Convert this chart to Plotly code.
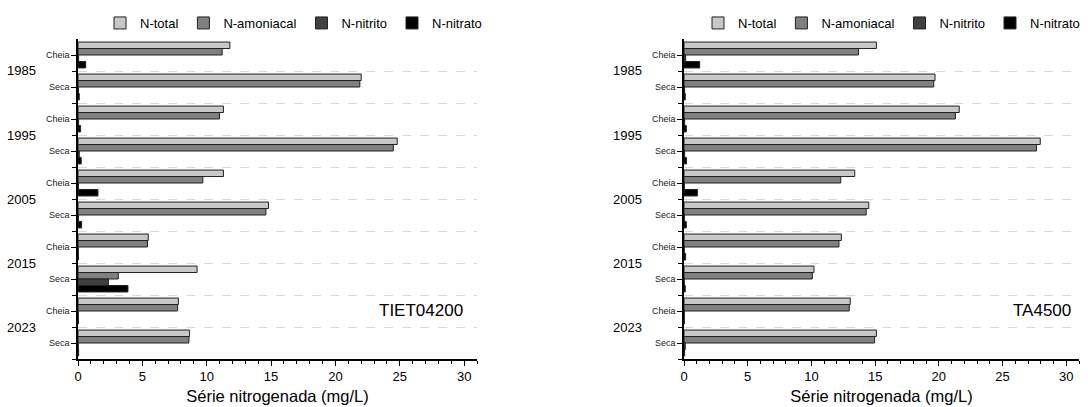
import plotly.graph_objects as go

years = ["1985", "1995", "2005", "2015", "2023"]
seasons = ["Cheia", "Seca"]
series = ["N-total", "N-amoniacal", "N-nitrito", "N-nitrato"]
colors = ["#c8c8c8", "#808080", "#404040", "#000000"]

# TIET04200 (order: Cheia 1985, Seca 1985, Cheia 1995, ...)
tiet_total = [11.8, 22.0, 11.3, 24.8, 11.3, 14.8, 5.46, 9.25, 7.8, 8.67]
tiet_amon = [11.2, 21.9, 11.0, 24.5, 9.7, 14.6, 5.4, 3.13, 7.74, 8.62]
tiet_nitrito = [0.05, 0.03, 0.05, 0.1, 0.03, 0.03, 0.02, 2.36, 0.02, 0.02]
tiet_nitrato = [0.6, 0.1, 0.2, 0.25, 1.55, 0.28, 0.03, 3.88, 0.03, 0.05]

# TA4500
ta_total = [15.1, 19.7, 21.6, 27.96, 13.4, 14.5, 12.35, 10.2, 13.05, 15.1]
ta_amon = [13.7, 19.6, 21.3, 27.67, 12.3, 14.3, 12.16, 10.07, 12.97, 14.96]
ta_nitrito = [0.13, 0.05, 0.05, 0.05, 0.03, 0.02, 0.02, 0.02, 0.02, 0.1]
ta_nitrato = [1.23, 0.1, 0.18, 0.2, 1.05, 0.18, 0.13, 0.1, 0.02, 0.05]

slot_labels = [s for y in years for s in seasons]
slot_pos = list(range(len(slot_labels)))
boundaries = [i + 0.5 for i in range(len(slot_labels))]
year_pos = [2 * i + 0.5 for i in range(len(years))]

FONT = "Liberation Sans, Arial, sans-serif"
fig = go.Figure()

panels = [
    ("x", "y", "legend", [tiet_total, tiet_amon, tiet_nitrito, tiet_nitrato]),
    ("x2", "y2", "legend2", [ta_total, ta_amon, ta_nitrito, ta_nitrato]),
]
for xa, ya, lg, vals in panels:
    for name, col, v in zip(series, colors, vals):
        fig.add_trace(go.Bar(
            x=v, y=slot_pos, orientation="h", name=name, xaxis=xa, yaxis=ya,
            legend=lg, marker=dict(color=col, line=dict(color="#222", width=1)),
            hovertemplate="%{x}<extra>" + name + "</extra>",
        ))

xdom1 = [78 / 1088, 477 / 1088]
xdom2 = [684 / 1088, 1079 / 1088]
ydom = [48 / 407, 368 / 407]

def xaxis_cfg(dom, anchor):
    return dict(
        domain=dom, anchor=anchor, range=[0, 31], tickvals=[0, 5, 10, 15, 20, 25, 30],
        ticks="outside", ticklen=5, tickwidth=1.2, tickcolor="black",
        minor=dict(dtick=1, tick0=0, ticks="outside", ticklen=3, tickcolor="black"),
        showline=True, linecolor="black", linewidth=1.5, showgrid=False, zeroline=False,
        tickfont=dict(size=13, color="black", family=FONT),
        title=dict(text="Série nitrogenada (mg/L)", font=dict(size=16.5, color="black", family=FONT), standoff=7),
        automargin=False,
    )

def yaxis_cfg(anchor):
    return dict(
        domain=ydom, anchor=anchor, range=[9.5, -0.5], tickmode="array",
        tickvals=slot_pos, ticktext=slot_labels, ticks="outside", ticklen=5,
        tickcolor="black", tickfont=dict(size=9, color="#222", family=FONT),
        minor=dict(tickmode="array", tickvals=boundaries, ticks="outside", ticklen=4,
                   tickcolor="black", showgrid=True, griddash="dash", gridcolor="#d9d9d9", gridwidth=1),
        showline=True, linecolor="black", linewidth=1.5, showgrid=False, zeroline=False,
        automargin=False,
    )

annotations = []
for xa, ya, label, lx in [("x", "y", "TIET04200", 0.97), ("x2", "y2", "TA4500", 0.985)]:
    for yr, yp in zip(years, year_pos):
        annotations.append(dict(
            text=yr, xref=xa + " domain", yref=ya, x=0, y=yp, xanchor="right", yanchor="middle",
            xshift=-40, showarrow=False, font=dict(size=13, color="black", family=FONT)))
    annotations.append(dict(
        text=label, xref=xa + " domain", yref=ya + " domain", x=lx, y=0.153,
        xanchor="right", yanchor="middle", showarrow=False,
        font=dict(size=17, color="black", family=FONT)))

legend_common = dict(orientation="h", yanchor="middle", y=1 - 23 / 407, xanchor="right",
                     font=dict(size=13, color="black", family=FONT), bgcolor="rgba(0,0,0,0)",
                     itemwidth=30, traceorder="normal")

fig.update_layout(
    width=1088, height=407, margin=dict(l=0, r=0, t=0, b=0),
    paper_bgcolor="white", plot_bgcolor="white",
    barmode="group", bargap=0.19, bargroupgap=0,
    font=dict(family=FONT, color="black"),
    xaxis=xaxis_cfg(xdom1, "y"), yaxis=yaxis_cfg("x"),
    xaxis2=xaxis_cfg(xdom2, "y2"), yaxis2=yaxis_cfg("x2"),
    legend=dict(x=487 / 1088, **legend_common),
    legend2=dict(x=1085 / 1088, **legend_common),
    annotations=annotations,
    showlegend=True,
)

fig.write_html("out.html", config={"displayModeBar": False},
               post_script="document.body.style.margin='0';document.body.style.overflow='hidden';")
